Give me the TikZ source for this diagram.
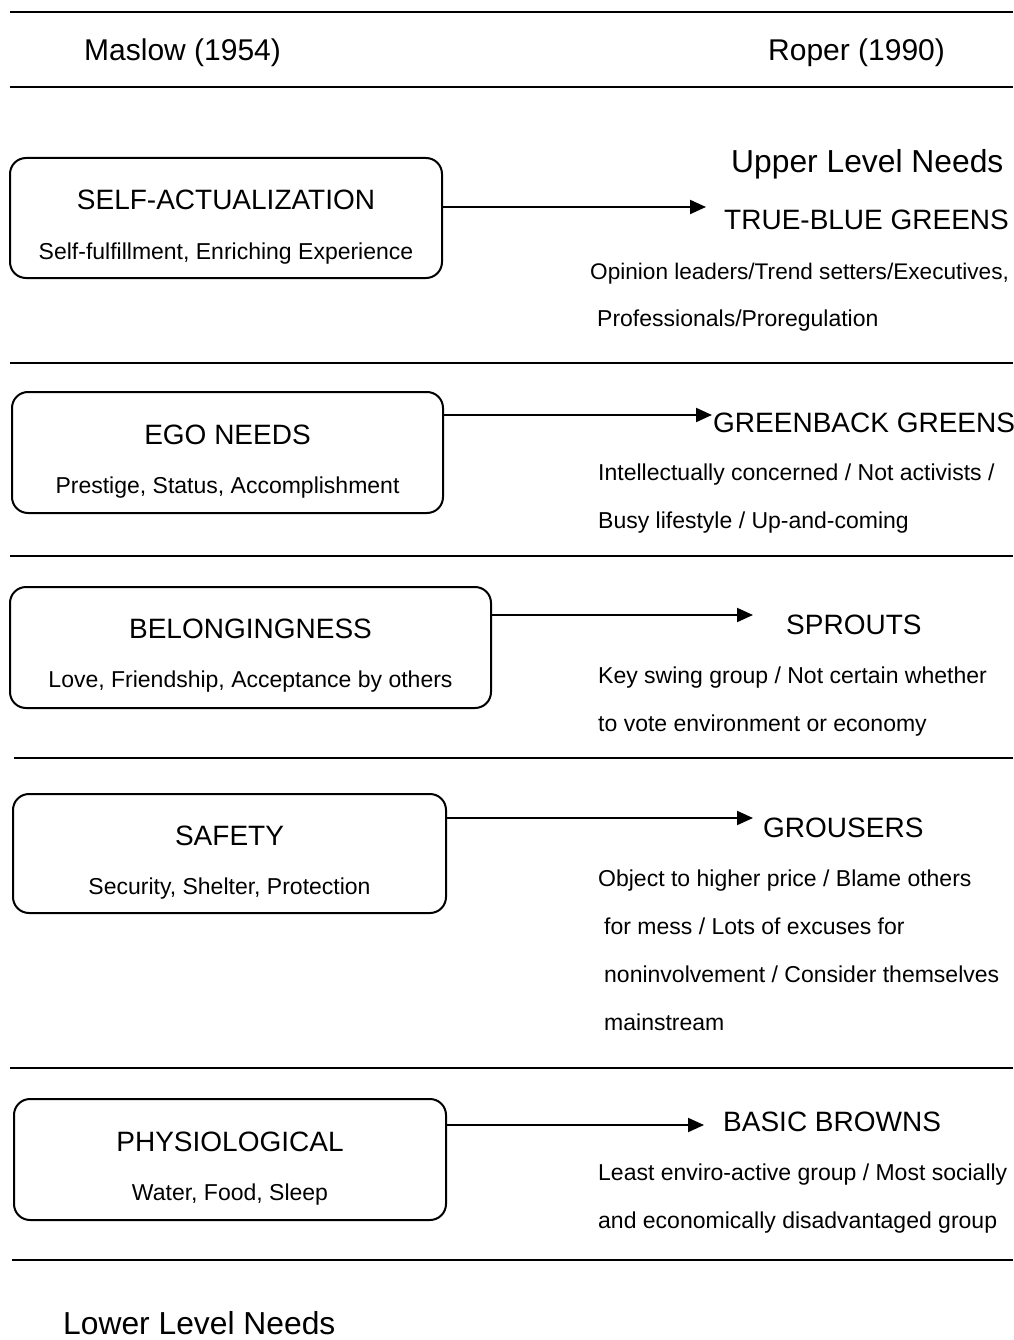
\documentclass[tikz,border=0pt]{standalone}
\usepackage{fontspec}
\setmainfont{Liberation Sans}
\usetikzlibrary{arrows.meta}

\tikzset{
  rule/.style={line width=2.4pt},
  needbox/.style={draw, line width=2pt, rounded corners=16pt, inner sep=0pt},
  boxtitle/.style={inner sep=0pt, anchor=base, font=\fontsize{28}{34}\selectfont},
  boxsub/.style={inner sep=0pt, anchor=base, font=\fontsize{23}{28}\selectfont},
  grouptitle/.style={inner sep=0pt, anchor=base west, font=\fontsize{28}{34}\selectfont},
  groupsub/.style={inner sep=0pt, anchor=base west, font=\fontsize{23}{28}\selectfont},
  header/.style={inner sep=0pt, anchor=base west, font=\fontsize{30}{36}\selectfont},
  levelnote/.style={inner sep=0pt, anchor=base west, font=\fontsize{31.8}{38}\selectfont},
  link/.style={line width=2pt, -{Triangle[length=16pt,width=14pt]}}
}

\begin{document}
\begin{tikzpicture}[x=1pt,y=-1pt]
\useasboundingbox (0,0) rectangle (1013,1340);

% column headers and separating rules
\draw[rule] (10,12) -- (1013,12);
\node[header] (maslow) at (84,61) {Maslow (1954)};
\node[header] (roper) at (768,61) {Roper (1990)};
\draw[rule] (10,87) -- (1013,87);
\draw[rule] (10,363) -- (1013,363);
\draw[rule] (10,556) -- (1013,556);
\draw[rule] (14,758) -- (1013,758);
\draw[rule] (10,1068) -- (1013,1068);
\draw[rule] (12,1260) -- (1013,1260);

% Maslow's levels
\node[needbox, minimum width=432pt, minimum height=120pt] (b1) at (226,218) {};
\node[boxtitle] (b1t) at (226,210) {SELF-ACTUALIZATION};
\node[boxsub] (b1s) at (226,259) {Self-fulfillment, Enriching Experience};

\node[needbox, minimum width=431pt, minimum height=121pt] (b2) at (227.5,452.5) {};
\node[boxtitle] (b2t) at (227.5,444) {EGO NEEDS};
\node[boxsub] (b2s) at (227.5,493) {Prestige, Status, Accomplishment};

\node[needbox, minimum width=481pt, minimum height=121pt] (b3) at (250.5,647.5) {};
\node[boxtitle] (b3t) at (250.5,638) {BELONGINGNESS};
\node[boxsub] (b3s) at (250.5,687) {Love, Friendship, Acceptance by others};

\node[needbox, minimum width=433pt, minimum height=119pt] (b4) at (229.5,853.5) {};
\node[boxtitle] (b4t) at (229.5,845) {SAFETY};
\node[boxsub] (b4s) at (229.5,894) {Security, Shelter, Protection};

\node[needbox, minimum width=432pt, minimum height=121pt] (b5) at (230,1159.5) {};
\node[boxtitle] (b5t) at (230,1151) {PHYSIOLOGICAL};
\node[boxsub] (b5s) at (230,1200) {Water, Food, Sleep};

% Roper's groups
\node[levelnote] (upper) at (731,173) {Upper Level Needs};
\node[grouptitle] (g1) at (724,230) {TRUE-BLUE GREENS};
\node[groupsub, font=\fontsize{22.6}{28}\selectfont] (g1a) at (590,279) {Opinion leaders/Trend setters/Executives,};
\node[groupsub] (g1b) at (597,326) {Professionals/Proregulation};

\node[grouptitle] (g2) at (713,432) {GREENBACK GREENS};
\node[groupsub] (g2a) at (598,480) {Intellectually concerned / Not activists /};
\node[groupsub] (g2b) at (598,528) {Busy lifestyle / Up-and-coming};

\node[grouptitle] (g3) at (786,634) {SPROUTS};
\node[groupsub] (g3a) at (598,683) {Key swing group / Not certain whether};
\node[groupsub] (g3b) at (598,731) {to vote environment or economy};

\node[grouptitle] (g4) at (763,837) {GROUSERS};
\node[groupsub] (g4a) at (598,886) {Object to higher price / Blame others};
\node[groupsub] (g4b) at (604,934) {for mess / Lots of excuses for};
\node[groupsub] (g4c) at (604,982) {noninvolvement / Consider themselves};
\node[groupsub] (g4d) at (604,1030) {mainstream};

\node[grouptitle] (g5) at (723,1131) {BASIC BROWNS};
\node[groupsub] (g5a) at (598,1180) {Least enviro-active group / Most socially};
\node[groupsub] (g5b) at (598,1228) {and economically disadvantaged group};

\node[levelnote] (lower) at (63,1334) {Lower Level Needs};

% arrows from each level to its group
\coordinate (t1) at (706,207);
\coordinate (t2) at (712,415);
\coordinate (t3) at (753,615);
\coordinate (t4) at (753,818);
\coordinate (t5) at (704,1125);
\draw[link] (b1.east |- t1) -- (t1);
\draw[link] (b2.east |- t2) -- (t2);
\draw[link] (b3.east |- t3) -- (t3);
\draw[link] (b4.east |- t4) -- (t4);
\draw[link] (b5.east |- t5) -- (t5);
\end{tikzpicture}
\end{document}
